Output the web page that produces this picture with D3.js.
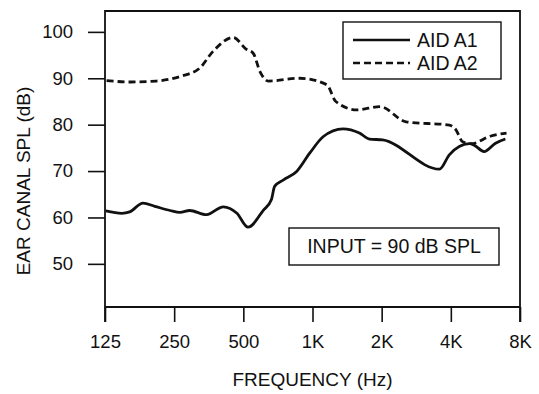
<!DOCTYPE html>
<html>
<head>
<meta charset="utf-8">
<script src="https://cdn.jsdelivr.net/npm/d3@7"></script>
<style>
  body { margin: 0; background: #fff; }
  svg text { font-family: "Liberation Sans", Arial, sans-serif; fill: #111; }
</style>
</head>
<body>
<div id="chart"></div>
<script>
// data
let freqTicks = [125, 250, 500, 1000, 2000, 4000, 8000];
let freqLabels = ["125", "250", "500", "1K", "2K", "4K", "8K"];
let splTicks = [50, 60, 70, 80, 90, 100];

let a1Freq = [126, 148, 160, 183, 206, 240, 265, 292, 346, 409, 469, 524, 612, 662, 684, 748, 853, 974, 1112, 1357, 1600, 1770, 2020, 3570, 3940, 4810, 5050, 5580, 6260, 6910];
let a1Spl  = [61.4, 60.9, 61.2, 63.1, 62.4, 61.5, 61.1, 61.5, 60.6, 62.3, 60.9, 57.9, 61.6, 63.8, 66.7, 68.1, 69.9, 73.9, 77.4, 79.1, 78.2, 76.9, 76.7, 70.4, 73.5, 75.9, 75.6, 74.2, 76.0, 76.9];

let a2Freq = [127, 160, 209, 266, 323, 369, 452, 514, 552, 590, 641, 880, 1155, 1263, 1558, 1967, 2555, 3940, 4210, 4500, 4910, 5930, 6990];
let a2Spl  = [89.5, 89.2, 89.4, 90.4, 92.2, 95.8, 98.8, 96.3, 95.4, 91.5, 89.4, 90.0, 88.6, 85.0, 83.2, 83.9, 80.6, 79.9, 78.9, 76.3, 75.9, 77.5, 78.2];

let margin = {top: 11, right: 19, bottom: 87, left: 105},
    width = 539 - margin.left - margin.right,
    height = 394 - margin.top - margin.bottom;

let svg = d3.select("#chart")
  .append("svg")
    .attr("width", 539)
    .attr("height", 394)
  .append("g")
    .attr("transform", "translate(" + margin.left + "," + margin.top + ")");

let x = d3.scaleLog()
  .domain([125, 8000])
  .range([0, width]);

let y = d3.scaleLinear()
  .domain([40.7, 104.5])
  .range([height, 0]);

// axes (ticks only, frame drawn separately)
let xAxis = d3.axisBottom(x)
  .tickValues(freqTicks)
  .tickFormat(function(d, i) { return freqLabels[i]; })
  .tickSize(15)
  .tickPadding(13);

let gx = svg.append("g")
  .attr("transform", "translate(0," + height + ")")
  .call(xAxis);
gx.select(".domain").remove();
gx.selectAll("line").attr("stroke", "#111").attr("stroke-width", 1.6);
gx.selectAll("text").style("font-size", "18.5px").attr("fill", "#111");

let yAxis = d3.axisLeft(y)
  .tickValues(splTicks)
  .tickSize(17)
  .tickPadding(15);

let gy = svg.append("g").call(yAxis);
gy.select(".domain").remove();
gy.selectAll("line").attr("stroke", "#111").attr("stroke-width", 1.6);
gy.selectAll("text").style("font-size", "18.5px").attr("fill", "#111");

// frame
svg.append("path")
  .attr("d", "M0," + (height + 15) + "V0H" + width + "V" + (height + 15))
  .attr("fill", "none")
  .attr("stroke", "#111")
  .attr("stroke-width", 1.8);
svg.append("line")
  .attr("x1", 0).attr("x2", width)
  .attr("y1", height).attr("y2", height)
  .attr("stroke", "#111")
  .attr("stroke-width", 1.8);

// curves
let line = d3.line()
  .x(function(d) { return x(d[0]); })
  .y(function(d) { return y(d[1]); })
  .curve(d3.curveMonotoneX);

svg.append("path")
  .datum(d3.zip(a2Freq, a2Spl))
  .attr("d", line)
  .attr("fill", "none")
  .attr("stroke", "#111")
  .attr("stroke-width", 2.8)
  .attr("stroke-dasharray", "7,4");

svg.append("path")
  .datum(d3.zip(a1Freq, a1Spl))
  .attr("d", line)
  .attr("fill", "none")
  .attr("stroke", "#111")
  .attr("stroke-width", 2.8);

// legend
let legend = svg.append("g").attr("transform", "translate(238,11)");
legend.append("rect")
  .attr("width", 158).attr("height", 57)
  .attr("fill", "#fff").attr("stroke", "#111").attr("stroke-width", 1.4);
legend.append("line")
  .attr("x1", 10).attr("x2", 67).attr("y1", 18).attr("y2", 18)
  .attr("stroke", "#111").attr("stroke-width", 2.6);
legend.append("line")
  .attr("x1", 10).attr("x2", 67).attr("y1", 41).attr("y2", 41)
  .attr("stroke", "#111").attr("stroke-width", 2.6)
  .attr("stroke-dasharray", "7,4");
legend.append("text")
  .attr("x", 74).attr("y", 25)
  .style("font-size", "19.5px")
  .text("AID A1");
legend.append("text")
  .attr("x", 74).attr("y", 48)
  .style("font-size", "19.5px")
  .text("AID A2");

// input note
let note = svg.append("g").attr("transform", "translate(184,217)");
note.append("rect")
  .attr("width", 210).attr("height", 37)
  .attr("fill", "#fff").attr("stroke", "#111").attr("stroke-width", 1.4);
note.append("text")
  .attr("x", 105).attr("y", 25)
  .attr("text-anchor", "middle")
  .style("font-size", "19.5px")
  .text("INPUT = 90 dB SPL");

// axis titles
svg.append("text")
  .attr("x", width / 2)
  .attr("y", height + 79)
  .attr("text-anchor", "middle")
  .style("font-size", "19px")
  .text("FREQUENCY (Hz)");

svg.append("text")
  .attr("transform", "rotate(-90)")
  .attr("x", -170)
  .attr("y", -75)
  .attr("text-anchor", "middle")
  .style("font-size", "19px")
  .text("EAR CANAL SPL (dB)");
</script>
</body>
</html>
